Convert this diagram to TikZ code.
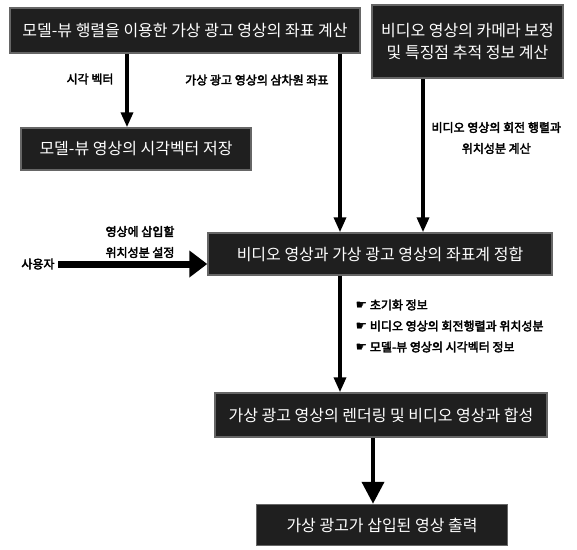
\documentclass[tikz,border=0pt]{standalone}
\usepackage{fontspec}
\newfontfamily\kr{Noto Sans CJK KR}
\newfontfamily\krb{Noto Sans CJK KR}[FakeBold=3]
\newfontfamily\symb{DejaVu Sans}
\usetikzlibrary{arrows.meta}

\begin{document}
\begin{tikzpicture}[
  x=1pt,y=-1pt,
  box/.style={fill=black!88,draw=black!60,line width=1.5pt,text=white,inner sep=0pt,align=center,
    font=\kr\fontsize{16}{22}\selectfont},
  lbl/.style={align=center,font=\krb\fontsize{12}{21}\selectfont},
  arr/.style={-{Triangle[length=15pt,width=12pt]},line width=3.5pt},
  bigarr/.style={-{Triangle[length=22pt,width=22pt]},line width=4pt},
  userarr/.style={-{Triangle[length=18pt,width=26pt]},line width=7pt}
]
\useasboundingbox (0,0) rectangle (577,549);
\node[box,minimum width=350pt,minimum height=45pt] (model) at (185,30.5) {모델-뷰 행렬을 이용한 가상 광고 영상의 좌표 계산};
\node[box,minimum width=191pt,minimum height=73pt] (video) at (467.5,41.5) {비디오 영상의 카메라 보정\\및 특징점 추적 정보 계산};
\node[box,minimum width=230pt,minimum height=42pt] (sight) at (136,149) {모델-뷰 영상의 시각벡터 저장};
\node[box,minimum width=344pt,minimum height=42pt] (match) at (380,254) {비디오 영상과 가상 광고 영상의 좌표계 정합};
\node[box,minimum width=332pt,minimum height=44pt] (render) at (381,415) {가상 광고 영상의 렌더링 및 비디오 영상과 합성};
\node[box,minimum width=251pt,minimum height=41pt] (output) at (382,525) {가상 광고가 삽입된 영상 출력};

% labels
\node[lbl,anchor=east] (lsight) at (117,79) {시각 벡터};
\node[lbl,anchor=east] (lcoord) at (332,80) {가상 광고 영상의 삼차원 좌표};
\node[lbl,anchor=west] (lrot) at (428,138) {비디오 영상의 회전 행렬과\\위치성분 계산};
\node[lbl] (user) at (38,264) {사용자};
\node[lbl] (lpos) at (140,242) {영상에 삽입할\\위치성분 설정};
\node[lbl,anchor=west,align=left] (linfo) at (352,326) {{\symb\fontsize{13}{21}\selectfont ☛} 초기화 정보\\{\symb\fontsize{13}{21}\selectfont ☛} 비디오 영상의 회전행렬과 위치성분\\{\symb\fontsize{13}{21}\selectfont ☛} 모델-뷰 영상의 시각벡터 정보};

\coordinate (xa) at (127,0);
\coordinate (xb) at (340,0);
\coordinate (xc) at (423,0);
\coordinate (xd) at (373,0);

\draw[arr] (model.south -| xa) -- (sight.north -| xa);
\draw[arr] (model.south -| xb) -- (match.north -| xb);
\draw[arr] (video.south -| xc) -- (match.north -| xc);
\draw[userarr] (user.east) -- (user.east -| match.west);
\draw[arr] (match.south -| xb) -- (render.north -| xb);
\draw[bigarr] (render.south -| xd) -- (output.north -| xd);
\end{tikzpicture}
\end{document}
